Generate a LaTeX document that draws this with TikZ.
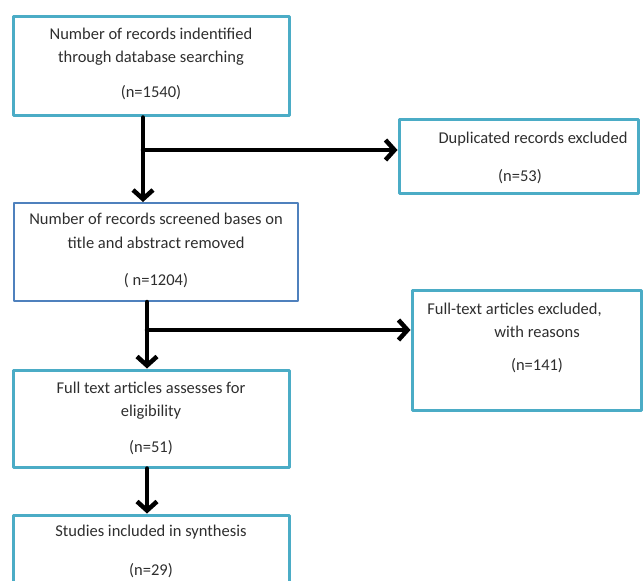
\documentclass[tikz,border=0pt]{standalone}
\usepackage{fontspec}
\setmainfont{Carlito}
\usetikzlibrary{arrows.meta}

\definecolor{aqua}{HTML}{4BACC6}
\definecolor{steel}{HTML}{4F81BD}
\definecolor{ink}{HTML}{2E2E2E}

\tikzset{
  box/.style={draw=aqua, line width=3bp, rectangle, inner sep=0pt},
  boxtext/.style={align=center, text=ink, inner sep=0pt, anchor=base,
    font=\fontsize{16.5bp}{23.4bp}\selectfont},
  flow/.style={line width=4.5bp, -{Straight Barb[length=9bp,width=20bp,line width=4.5bp]}}
}

\begin{document}
\begin{tikzpicture}[x=1bp, y=-1bp, line cap=round, line join=round]

\useasboundingbox (0,0) rectangle (644,581);

% Boxes
\node[box, minimum width=275bp, minimum height=99bp] (ident) at (151.5,66.5) {};
\node[box, minimum width=239bp, minimum height=73bp] (dup) at (518.5,156.5) {};
\node[box, draw=steel, line width=2bp, minimum width=284bp, minimum height=98bp] (screen) at (156,252) {};
\node[box, minimum width=229bp, minimum height=120bp] (fulltext) at (526.5,350) {};
\node[box, minimum width=275bp, minimum height=97bp] (elig) at (151.5,418.5) {};
\node[box, minimum width=275bp, minimum height=82bp] (synth) at (151.5,556) {};

% Texts (anchored on the last line)
\node[boxtext] (ident-t) at (151,97.3)
  {Number of records indentified\\through database searching\\[11.2bp](n=1540)};
\node[boxtext] (dup-t) at (520,181.7)
  {\hspace*{26bp}Duplicated records excluded\\[15bp](n=53)};
\node[boxtext] (screen-t) at (156,285.5)
  {Number of records screened bases on\\title and abstract removed\\[14bp]( n=1204)};
\node[boxtext] (fulltext-t) at (537,370)
  {Full-text articles excluded,\hspace*{45bp}\\with reasons\\[9bp](n=141)};
\node[boxtext] (elig-t) at (151,452)
  {Full text articles assesses for\\eligibility\\[12bp](n=51)};
\node[boxtext] (synth-t) at (151,575)
  {Studies included in synthesis\\[15bp](n=29)};

% Branch points
\coordinate (j1) at (143,150);
\coordinate (j2) at (147,330);
\coordinate (j3) at (147,490);

% Arrows
\draw[flow] (j1 |- ident.south) -- (j1 |- screen.north);
\draw[flow] (j1) -- (dup.west |- j1);
\draw[flow] (j2 |- screen.south) -- (j2 |- elig.north);
\draw[flow] (j2) -- (fulltext.west |- j2);
\draw[flow] (j3 |- elig.south) -- (j3 |- synth.north);

\end{tikzpicture}
\end{document}
